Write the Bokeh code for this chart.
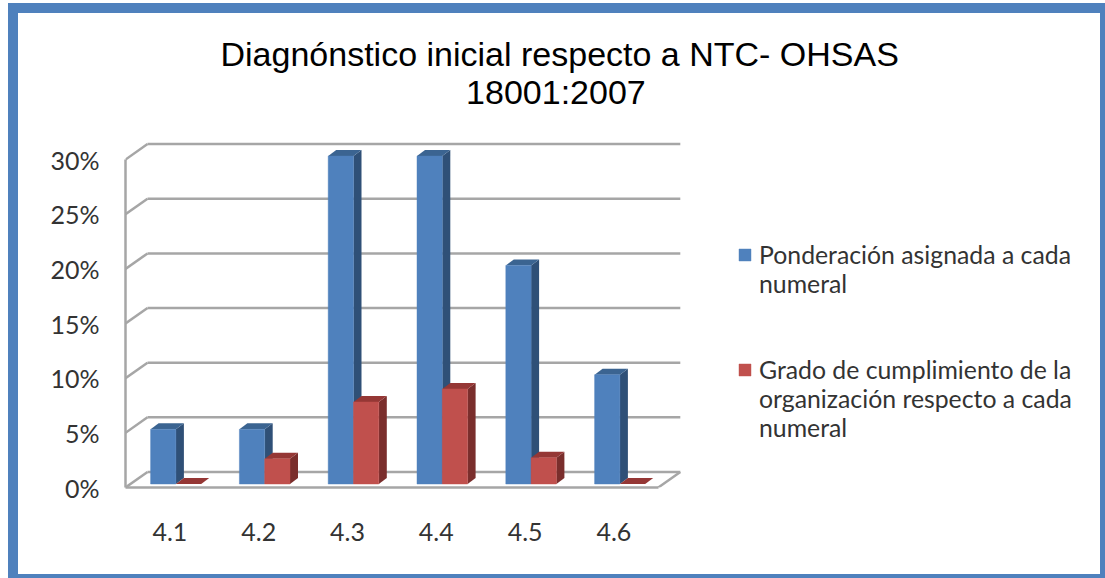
from bokeh.plotting import figure
from bokeh.embed import file_html
from bokeh.resources import INLINE
from bokeh.models import (Range1d, FixedTicker, Legend, LegendItem, Title)

TITLE = "Diagnónstico inicial respecto a NTC- OHSAS\n" + "\u00a0" * 26 + "18001:2007"
categories = ["4.1", "4.2", "4.3", "4.4", "4.5", "4.6"]
ponderacion = [5, 5, 30, 30, 20, 10]
cumplimiento = [0, 2.3, 7.5, 8.7, 2.4, 0]
y_ticks = [0, 5, 10, 15, 20, 25, 30]
series_names = ["\nPonderación asignada a cada\nnumeral",
                "\n\nGrado de cumplimiento de la\norganización respecto a cada\nnumeral"]

BLUE, BLUE_TOP, BLUE_SIDE = "#4F81BD", "#3B6491", "#2F5077"
RED, RED_TOP, RED_SIDE = "#C0504D", "#953735", "#7A2E2C"
GRID = "#A6A6A6"
TXT = "#333333"
FONT = "Lato"

# geometry in data units (x: one category band = 1, y: percent)
PX_X, PX_Y = 88.8, 10.93
DX_WALL, DY_WALL = 22 / PX_X, 15.5 / PX_Y
DX_BAR, DY_BAR = 8 / PX_X, 6 / PX_Y
BAR_W = 25.3 / PX_X
BAR_SHIFT = 6 / PX_X
BASE = 3.5 / PX_Y
X_LO, X_HI = 0.5, 6.5

FW, FH = 970, 346
p = figure(width=1105, height=578, output_backend="svg", toolbar_location=None,
           x_range=Range1d(X_LO, X_LO + FW / PX_X), y_range=Range1d(0, FH / PX_Y),
           min_border_left=125, min_border_right=10, min_border_top=141, min_border_bottom=91,
           outline_line_color=None, border_fill_color=None, background_fill_color="white")
p.grid.visible = False
p.styles = {"box-shadow": f"inset 8px 3px 0 0 white, inset 18px 13px 0 0 {BLUE}, inset -5px -4px 0 0 {BLUE}"}

p.add_layout(Title(text=TITLE, align="left", offset=95, standoff=62, text_line_height=1.0,
                   text_font="Liberation Sans", text_font_size="34px",
                   text_font_style="normal", text_color="#000000"), "above")

# walls and floor
for t in y_ticks:
    p.line([X_LO + DX_WALL, X_HI + DX_WALL], [t + DY_WALL, t + DY_WALL], line_color=GRID, line_width=2.5)
    p.line([X_LO, X_LO + DX_WALL], [t, t + DY_WALL], line_color=GRID, line_width=2.5)
p.line([X_HI, X_HI + DX_WALL], [0, DY_WALL], line_color=GRID, line_width=2.5)


def boxes(values, offset):
    lefts = [i + 1 + BAR_SHIFT + offset for i in range(len(values))]
    rights = [l + BAR_W for l in lefts]
    tops = [BASE + v for v in values]
    side_x = [[r, r + DX_BAR, r + DX_BAR, r] for r in rights]
    side_y = [[BASE, BASE + DY_BAR, t + DY_BAR, t] for t in tops]
    top_x = [[l, l + DX_BAR, r + DX_BAR, r] for l, r in zip(lefts, rights)]
    top_y = [[t, t + DY_BAR, t + DY_BAR, t] for t in tops]
    return lefts, rights, tops, side_x, side_y, top_x, top_y


def draw(values, offset, front, top, side):
    l, r, t, sx, sy, tx, ty = boxes(values, offset)
    p.patches(sx, sy, fill_color=side, line_color=None)
    p.patches(tx, ty, fill_color=top, line_color=None)
    keep = [i for i, v in enumerate(values) if v > 0]
    return p.quad(left=[l[i] for i in keep], right=[r[i] for i in keep],
                  bottom=BASE, top=[t[i] for i in keep],
                  fill_color=front, line_color=front, line_alpha=0.45, line_width=1)


r1 = draw(ponderacion, -BAR_W, BLUE, BLUE_TOP, BLUE_SIDE)
r2 = draw(cumplimiento, 0, RED, RED_TOP, RED_SIDE)

# axes
xa, ya = p.xaxis[0], p.yaxis[0]
xa.ticker = FixedTicker(ticks=list(range(1, len(categories) + 1)))
xa.major_label_overrides = {i + 1: c for i, c in enumerate(categories)}
xa.bounds = (X_LO, X_HI)
ya.ticker = FixedTicker(ticks=y_ticks)
ya.major_label_overrides = {t: f"{t}%" for t in y_ticks}
ya.bounds = (0, 30)
for a in (xa, ya):
    a.axis_line_color = GRID
    a.axis_line_width = 2.5
    a.major_tick_line_color = None
    a.minor_tick_line_color = None
    a.major_label_text_font = FONT
    a.major_label_text_font_size = "25px"
    a.major_label_text_color = TXT
xa.major_label_standoff = 29
ya.major_label_standoff = 20

legend_style = dict(orientation="vertical", background_fill_alpha=0, border_line_color=None,
                    label_text_font=FONT, label_text_font_size="24.8px", label_text_color=TXT,
                    glyph_width=15, glyph_height=15,
                    label_standoff=7, padding=0, margin=0)
p.add_layout(Legend(items=[LegendItem(label=series_names[0], renderers=[r1])],
                    location=(612, 189), **legend_style), "center")
p.add_layout(Legend(items=[LegendItem(label=series_names[1], renderers=[r2])],
                    location=(612, 45), **legend_style), "center")

open("out.html", "w").write(file_html(p, INLINE))
